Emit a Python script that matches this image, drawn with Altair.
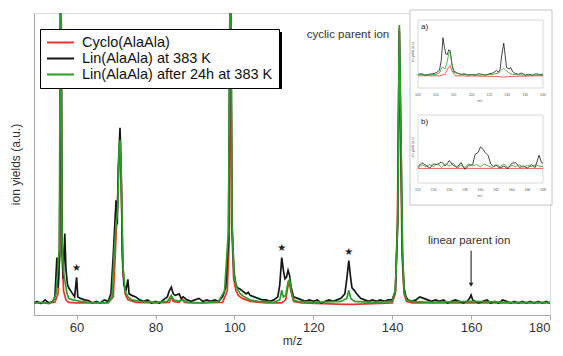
import altair as alt
import pandas as pd

# ---------------- data ----------------
SERIES = ["Cyclo(AlaAla)", "Lin(AlaAla) at 383 K", "Lin(AlaAla) after 24h at 383 K"]
COLORS = ["#e8362c", "#161616", "#2b9e2b"]

cyclo_mz = [49.2, 53, 54.5, 55.3, 55.7, 56, 56.3, 56.7, 57.3, 58, 60, 68, 69.3, 69.8, 70.3, 70.7, 71, 71.3,
            71.7, 72.3, 73, 75, 80, 83.5, 84, 84.5, 86, 86.7, 87.3, 90, 97, 98.2, 98.7, 99, 99.3, 99.8, 100.4,
            101, 102, 104, 108, 112, 113, 113.5, 113.9, 114.3, 115, 117, 128, 130, 140, 140.8, 141.3, 141.8,
            142.1, 142.5, 143, 143.6, 145, 180]
cyclo_y = [0.04, 0.04, 0.042, 0.07, 0.2, 1.3, 0.2, 0.08, 0.05, 0.042, 0.04, 0.04, 0.06, 0.2, 0.35, 0.5, 0.55,
           0.45, 0.15, 0.07, 0.05, 0.042, 0.04, 0.042, 0.06, 0.045, 0.042, 0.055, 0.042, 0.04, 0.042, 0.08, 0.25,
           1.3, 0.3, 0.12, 0.08, 0.065, 0.055, 0.045, 0.04, 0.04, 0.05, 0.09, 0.108, 0.08, 0.045, 0.04, 0.035,
           0.035, 0.04, 0.07, 0.3, 0.95, 0.6, 0.2, 0.07, 0.045, 0.04, 0.04]

lin_mz = [49.2, 50, 51, 52, 53, 54, 54.5, 55, 55.3, 55.7, 56, 56.3, 56.6, 57, 57.3, 57.7, 58, 58.5, 59, 59.5,
          60, 60.3, 61, 62, 63, 64, 65, 66, 67, 68, 68.7, 69.3, 70, 70.3, 70.6, 71, 71.3, 71.6, 72, 72.5, 73,
          73.3, 74, 75, 76, 77, 78, 79, 80, 81, 82, 83, 83.5, 84, 84.5, 85, 86, 86.5, 87, 88, 89, 90, 91, 92,
          93, 94, 95, 96, 97, 97.8, 98.5, 99, 99.4, 99.9, 100.4, 100.8, 101.5, 102, 103, 103.5, 104, 105,
          106, 107, 108, 109, 110, 111, 111.5, 112, 112.4, 112.8, 113.2, 113.6, 114, 114.4, 115, 116, 117,
          118, 119, 120, 121, 122, 123, 124, 125, 126, 127, 128, 128.5, 129, 129.4, 129.8, 130.5, 131, 132,
          133, 134, 135, 136, 137, 138, 139, 140, 140.8, 141.4, 141.8, 142.2, 142.6, 143, 143.5, 144, 145,
          146, 147, 148, 149, 150, 151, 152, 153, 154, 155, 156, 157, 158, 159, 159.6, 160, 160.4, 161, 162,
          163, 164, 165, 166, 167, 168, 169, 170, 171, 172, 173, 174, 175, 176, 177, 178, 179, 180]
lin_y = [0.04, 0.045, 0.038, 0.05, 0.04, 0.045, 0.06, 0.19, 0.09, 0.2, 1.3, 0.25, 0.12, 0.27, 0.15, 0.1, 0.09,
         0.08, 0.07, 0.06, 0.125, 0.06, 0.055, 0.05, 0.048, 0.04, 0.045, 0.04, 0.05, 0.045, 0.07, 0.2, 0.38,
         0.3, 0.5, 0.62, 0.48, 0.2, 0.1, 0.08, 0.118, 0.07, 0.065, 0.06, 0.05, 0.045, 0.05, 0.04, 0.045, 0.04,
         0.05, 0.06, 0.08, 0.092, 0.07, 0.065, 0.07, 0.055, 0.06, 0.05, 0.045, 0.05, 0.055, 0.045, 0.05, 0.045,
         0.05, 0.045, 0.06, 0.09, 0.25, 1.3, 0.3, 0.14, 0.1, 0.09, 0.085, 0.08, 0.07, 0.075, 0.065, 0.06, 0.055,
         0.05, 0.05, 0.045, 0.05, 0.06, 0.1, 0.19, 0.15, 0.12, 0.125, 0.148, 0.13, 0.09, 0.06, 0.055, 0.05,
         0.045, 0.05, 0.045, 0.05, 0.04, 0.045, 0.05, 0.045, 0.05, 0.055, 0.07, 0.12, 0.18, 0.13, 0.09, 0.08,
         0.07, 0.055, 0.05, 0.045, 0.05, 0.045, 0.05, 0.045, 0.05, 0.05, 0.08, 0.3, 0.94, 0.6, 0.2, 0.09, 0.06,
         0.05, 0.045, 0.05, 0.06, 0.055, 0.05, 0.045, 0.05, 0.045, 0.05, 0.04, 0.045, 0.05, 0.045, 0.04,
         0.045, 0.055, 0.066, 0.05, 0.045, 0.04, 0.045, 0.05, 0.04, 0.045, 0.04, 0.05, 0.045, 0.04, 0.045,
         0.04, 0.045, 0.04, 0.045, 0.04, 0.045, 0.04, 0.045, 0.04]

lin24_mz = [49.2, 51, 53, 54, 54.8, 55.6, 56, 56.3, 56.7, 57.2, 57.6, 58, 59, 60, 61, 63, 66, 68, 69, 69.5, 70,
            70.4, 70.8, 71.1, 71.4, 71.8, 72.3, 73, 74, 76, 80, 83, 84, 84.6, 86, 87, 88, 92, 96, 97.5, 98.5,
            99, 99.4, 99.9, 100.4, 100.8, 101.5, 102.5, 104, 106, 110, 111.5, 112, 112.4, 113, 113.6, 114,
            114.4, 115, 116, 120, 127, 128.5, 129, 129.5, 130.5, 135, 140, 140.8, 141.4, 141.8, 142.2, 142.6,
            143, 143.6, 145, 150, 160, 170, 180]
lin24_y = [0.04, 0.042, 0.038, 0.045, 0.07, 0.22, 1.3, 0.25, 0.14, 0.1, 0.07, 0.055, 0.05, 0.048, 0.045, 0.042,
           0.04, 0.042, 0.06, 0.2, 0.3, 0.35, 0.56, 0.58, 0.4, 0.15, 0.08, 0.06, 0.05, 0.045, 0.042, 0.045,
           0.065, 0.05, 0.045, 0.05, 0.042, 0.04, 0.045, 0.08, 0.28, 1.3, 0.3, 0.13, 0.1, 0.085, 0.07, 0.06,
           0.05, 0.045, 0.042, 0.05, 0.082, 0.06, 0.065, 0.11, 0.118, 0.08, 0.05, 0.045, 0.042, 0.045, 0.055,
           0.082, 0.055, 0.045, 0.042, 0.045, 0.08, 0.32, 0.96, 0.62, 0.22, 0.08, 0.05, 0.045, 0.042, 0.045,
           0.042, 0.042]

star_mz = [60, 112, 129]
star_y = [0.157, 0.223, 0.207]

notes = ["cyclic parent ion", "linear parent ion"]
note_mz = [128.8, 159.5]
note_y = [0.928, 0.246]
arrow_mz = 160
arrow_top, arrow_bottom = 0.213, 0.1

main_ticks = [60, 80, 100, 120, 140, 160, 180]

# inset a) (m/z 105-140)
ia_lin_mz = [105, 106, 107, 108, 109, 110, 111, 111.5, 112, 112.4, 112.8, 113.2, 113.6, 114, 114.5, 115, 116,
             117, 118, 119, 120, 121, 122, 123, 124, 125, 126, 127, 127.5, 128, 128.5, 129, 129.4, 129.8,
             130.5, 131, 131.5, 132, 133, 134, 135, 136, 137, 138, 139, 140]
ia_lin_y = [0.2, 0.21, 0.19, 0.2, 0.21, 0.22, 0.26, 0.4, 0.74, 0.6, 0.5, 0.49, 0.56, 0.55, 0.35, 0.25, 0.22,
            0.2, 0.21, 0.19, 0.2, 0.19, 0.21, 0.2, 0.19, 0.21, 0.22, 0.26, 0.23, 0.28, 0.5, 0.66, 0.48, 0.3,
            0.28, 0.3, 0.24, 0.22, 0.2, 0.22, 0.19, 0.2, 0.19, 0.21, 0.2, 0.2]
ia_lin24_mz = [105, 108, 110, 111, 111.7, 112, 112.5, 113, 113.6, 114, 114.5, 115, 117, 122, 126, 127.5, 128.5,
               129, 129.6, 130.5, 131.5, 135, 140]
ia_lin24_y = [0.2, 0.19, 0.2, 0.22, 0.3, 0.31, 0.28, 0.35, 0.5, 0.53, 0.35, 0.23, 0.2, 0.19, 0.2, 0.22, 0.27,
              0.29, 0.26, 0.22, 0.2, 0.19, 0.19]
ia_cyclo_mz = [105, 111, 112.5, 113.5, 114, 114.5, 115.5, 127, 129, 131, 140]
ia_cyclo_y = [0.18, 0.18, 0.2, 0.3, 0.33, 0.25, 0.18, 0.17, 0.16, 0.17, 0.18]
ia_ticks = [105, 110, 115, 120, 125, 130, 135, 140]

# inset b) (m/z 152-168)
ib_lin_mz = [152, 152.5, 153, 153.5, 154, 154.5, 155, 155.5, 156, 156.5, 157, 157.5, 158, 158.5, 159, 159.3,
             159.7, 160, 160.3, 160.6, 161, 161.3, 161.7, 162, 162.5, 163, 163.5, 164, 164.5, 165, 165.5, 166,
             166.5, 167, 167.5, 167.8, 168]
ib_lin_y = [0.24, 0.3, 0.26, 0.22, 0.28, 0.27, 0.31, 0.25, 0.33, 0.26, 0.23, 0.3, 0.2, 0.26, 0.27, 0.42, 0.45,
            0.53, 0.5, 0.45, 0.4, 0.28, 0.24, 0.26, 0.22, 0.25, 0.21, 0.29, 0.3, 0.23, 0.25, 0.22, 0.27, 0.23,
            0.41, 0.3, 0.29]
ib_lin24_mz = [152, 152.5, 153, 153.5, 154, 154.5, 155, 155.5, 156, 156.5, 157, 157.5, 158, 158.5, 159, 159.5,
               160, 160.5, 161, 161.5, 162, 162.5, 163, 163.5, 164, 164.5, 165, 165.5, 166, 166.5, 167, 167.5,
               168]
ib_lin24_y = [0.22, 0.27, 0.24, 0.27, 0.24, 0.29, 0.23, 0.28, 0.25, 0.29, 0.22, 0.26, 0.23, 0.28, 0.25, 0.27,
              0.24, 0.28, 0.25, 0.23, 0.27, 0.24, 0.28, 0.23, 0.26, 0.24, 0.27, 0.23, 0.26, 0.24, 0.27, 0.25,
              0.24]
ib_cyclo_mz = [152, 168]
ib_cyclo_y = [0.215, 0.215]
ib_ticks = [152, 154, 156, 158, 160, 162, 164, 166, 168]

# ---------------- helpers ----------------
FONT = "Liberation Sans"


def frame(mz, y, name):
    return pd.DataFrame({"mz": mz, "y": y, "series": name, "ord": list(range(len(mz)))})


color_enc = alt.Color(
    "series:N",
    scale=alt.Scale(domain=SERIES, range=COLORS),
    sort=SERIES,
    title=None,
    legend=alt.Legend(
        orient="none", legendX=6, legendY=16, padding=6, strokeColor="black",
        fillColor="white", symbolType="stroke", symbolSize=729, symbolStrokeWidth=2,
        labelFontSize=14.5, labelColor="#111", labelFont=FONT, rowPadding=0, clipHeight=15,
        labelLimit=400, labelOffset=7, cornerRadius=0,
    ),
)

dummy = pd.DataFrame({"a": [0]})

# ---------------- main panel ----------------
xs_main = alt.Scale(domain=[49.2, 180], nice=False, zero=False)
ys_main = alt.Scale(domain=[0, 1], nice=False, zero=False)

x_main = alt.X(
    "mz:Q", scale=xs_main, title="m/z",
    axis=alt.Axis(values=main_ticks, grid=False, domainColor="#a8a8a8", tickColor="#a8a8a8",
                  tickSize=4, labelFontSize=13, labelColor="#333", labelPadding=2, labelFont=FONT,
                  titleFontSize=12, titleFontWeight="normal", titleColor="#333", titlePadding=1,
                  titleFont=FONT),
)
y_main = alt.Y(
    "y:Q", scale=ys_main, title="ion yields (a.u.)",
    axis=alt.Axis(labels=False, ticks=False, grid=False, domainColor="#a8a8a8", titleFontSize=12,
                  titleFontWeight="normal", titleColor="#333", titlePadding=12, titleFont=FONT),
)

main_lines = []
for mz, y, name in [(cyclo_mz, cyclo_y, SERIES[0]), (lin_mz, lin_y, SERIES[1]), (lin24_mz, lin24_y, SERIES[2])]:
    main_lines.append(
        alt.Chart(frame(mz, y, name)).mark_line(strokeWidth=1.7, clip=True).encode(
            x=x_main, y=y_main, color=color_enc, order="ord:Q"
        )
    )

stars = alt.Chart(pd.DataFrame({"mz": star_mz, "y": star_y})).mark_text(
    text="★", fontSize=10, color="#222", font="DejaVu Sans", baseline="middle"
).encode(x=alt.X("mz:Q", scale=xs_main), y=alt.Y("y:Q", scale=ys_main))

note_txt = alt.Chart(pd.DataFrame({"mz": note_mz, "y": note_y, "t": notes})).mark_text(
    fontSize=11.5, color="#333", font=FONT, align="center", baseline="middle"
).encode(x=alt.X("mz:Q", scale=xs_main), y=alt.Y("y:Q", scale=ys_main), text="t:N")

arrow_line = alt.Chart(pd.DataFrame({"mz": [arrow_mz], "y": [arrow_top], "y2": [arrow_bottom]})).mark_rule(
    color="#222", strokeWidth=1.1
).encode(x=alt.X("mz:Q", scale=xs_main), y=alt.Y("y:Q", scale=ys_main), y2="y2:Q")

arrow_head = alt.Chart(pd.DataFrame({"mz": [arrow_mz], "y": [arrow_bottom]})).mark_point(
    shape="triangle-down", filled=True, size=22, color="#222", opacity=1
).encode(x=alt.X("mz:Q", scale=xs_main), y=alt.Y("y:Q", scale=ys_main))

legend_shadow = alt.Chart(dummy).mark_rect(color="black").encode(
    x=alt.value(9), x2=alt.value(248), y=alt.value(19), y2=alt.value(76)
)

main = alt.layer(*main_lines, stars, note_txt, arrow_line, arrow_head, legend_shadow)

# ---------------- insets ----------------
inset_box = alt.Chart(dummy).mark_rect(fill="white", stroke="#c4c4c4", strokeWidth=1).encode(
    x=alt.value(376), x2=alt.value(518), y=alt.value(-3), y2=alt.value(192)
)


def inset(lin_m, lin_v, l24_m, l24_v, cy_m, cy_v, ticks, dom, ytop, label):
    ybot = ytop + 68
    xs = alt.Scale(domain=dom, range=[384, 509], nice=False, zero=False)
    ys = alt.Scale(domain=[0, 1], range=[ybot, ytop], nice=False, zero=False)
    box = alt.Chart(dummy).mark_rect(fill="white", stroke="#cfcfcf", strokeWidth=0.8).encode(
        x=alt.value(384), x2=alt.value(509), y=alt.value(ytop), y2=alt.value(ybot)
    )
    lines = []
    for mz, y, name in [(cy_m, cy_v, SERIES[0]), (lin_m, lin_v, SERIES[1]), (l24_m, l24_v, SERIES[2])]:
        lines.append(
            alt.Chart(frame(mz, y, name)).mark_line(strokeWidth=0.8, clip=False).encode(
                x=alt.X("mz:Q", scale=xs, axis=None),
                y=alt.Y("y:Q", scale=ys, axis=None),
                color=color_enc, order="ord:Q",
            )
        )
    tick_txt = alt.Chart(pd.DataFrame({"mz": ticks})).mark_text(
        fontSize=3.5, color="#555", font=FONT, baseline="middle"
    ).encode(x=alt.X("mz:Q", scale=xs, axis=None), y=alt.value(ybot + 7), text="mz:Q")
    mz_txt = alt.Chart(dummy).mark_text(text="m/z", fontSize=3, color="#555", font=FONT).encode(
        x=alt.value(446), y=alt.value(ybot + 13)
    )
    ytitle = alt.Chart(dummy).mark_text(
        text="ion yields (a.u.)", fontSize=3, color="#555", font=FONT, angle=270
    ).encode(x=alt.value(379), y=alt.value(ytop + 32))
    lab = alt.Chart(dummy).mark_text(
        text=label, fontSize=8, color="#222", font=FONT, align="left", baseline="middle"
    ).encode(x=alt.value(387), y=alt.value(ytop + 7))
    return alt.layer(box, *lines, tick_txt, mz_txt, ytitle, lab)


inset_a = inset(ia_lin_mz, ia_lin_y, ia_lin24_mz, ia_lin24_y, ia_cyclo_mz, ia_cyclo_y, ia_ticks,
                [105, 140], 7, "a)")
inset_b = inset(ib_lin_mz, ib_lin_y, ib_lin24_mz, ib_lin24_y, ib_cyclo_mz, ib_cyclo_y, ib_ticks,
                [152, 168], 102, "b)")

chart = (
    alt.layer(main, inset_box, inset_a, inset_b)
    .resolve_scale(x="independent", y="independent")
    .properties(
        width=516, height=302,
        autosize=alt.AutoSizeParams(type="none"),
        padding={"left": 26, "top": 5, "right": 5, "bottom": 33},
    )
    .configure_view(stroke="#c8c8c8", strokeWidth=1)
    .configure(font=FONT, background="white")
)

chart.save("out.html", embed_options={"renderer": "svg", "actions": False})
